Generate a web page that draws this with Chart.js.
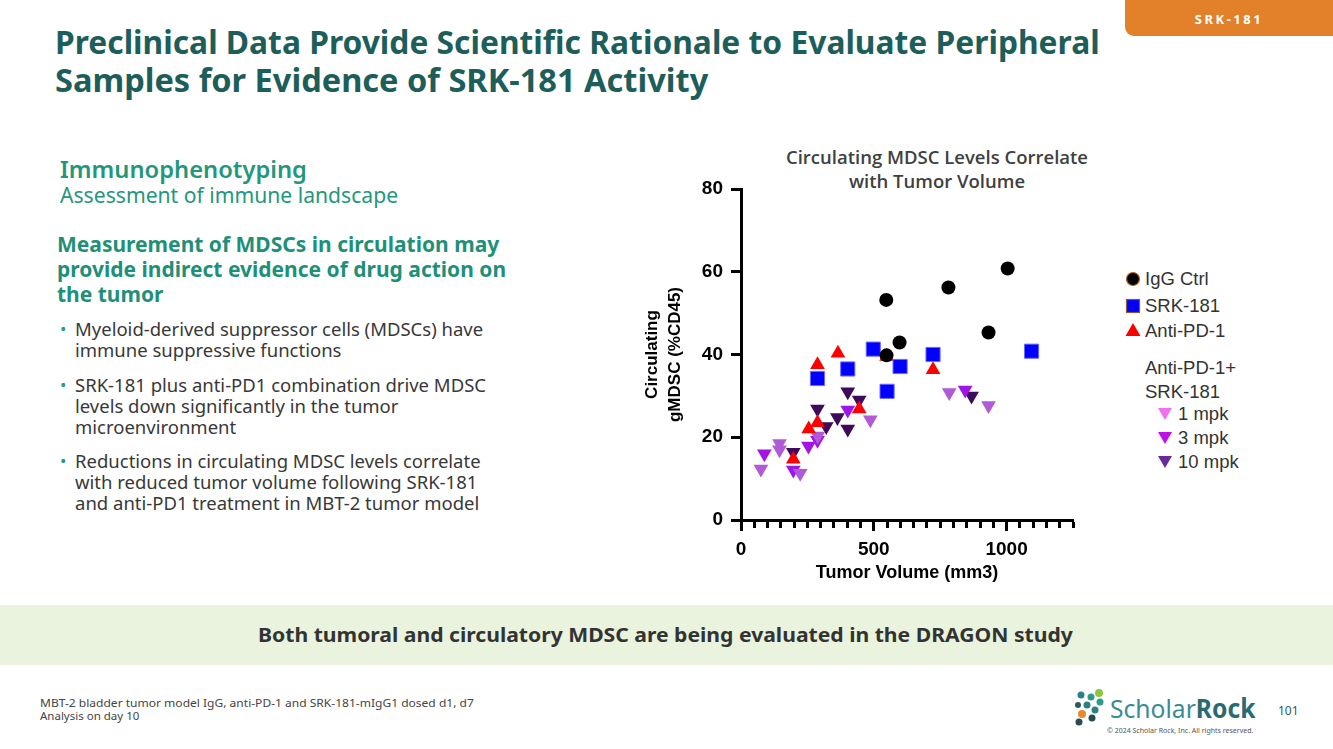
<!DOCTYPE html>
<html><head><meta charset="utf-8">
<script src="https://cdn.jsdelivr.net/npm/chart.js@4.4.1/dist/chart.umd.min.js"></script>
<style>
html,body{margin:0;padding:0;}
body{width:1333px;height:749px;position:relative;overflow:hidden;background:#fff;font-family:"Noto Sans",sans-serif;}
.abs{position:absolute;white-space:nowrap;}
.tab{left:1125px;top:0;width:208px;height:36px;background:#e3802a;border-bottom-left-radius:9px;color:#fff;font-weight:700;font-size:13px;letter-spacing:2.5px;text-align:center;line-height:38px;}
.ttl{left:55px;font-size:32px;font-weight:700;color:#1d5e5a;line-height:38px;transform-origin:0 50%;}
.teal{color:#23977c;}
.bul{left:60px;font-size:18.5px;color:#383838;line-height:21px;}
.bul span.d{position:absolute;left:0;color:#2a9a80;font-size:17px;}
.bul div{padding-left:15px;}
.band{left:0;top:605px;width:1333px;height:60px;background:#e9f3dd;}
.leg{font-family:"Liberation Sans",Arial,sans-serif;font-size:18.5px;color:#333;line-height:22px;}
.chartwrap{position:absolute;left:630px;top:140px;width:470px;height:460px;}
</style></head><body>
<div class="abs tab">SRK-181</div>
<div class="abs ttl" id="t1" style="top:23px">Preclinical Data Provide Scientific Rationale to Evaluate Peripheral</div>
<div class="abs ttl" id="t2" style="top:61px">Samples for Evidence of SRK-181 Activity</div>

<div class="abs teal" id="h1" style="left:60px;top:153px;font-size:24px;font-weight:600;line-height:32px;transform-origin:0 50%;">Immunophenotyping</div>
<div class="abs teal" id="h2" style="left:60px;top:182px;font-size:21px;line-height:26px;transform-origin:0 50%;">Assessment of immune landscape</div>
<div class="abs teal" style="left:57px;top:232px;font-size:21px;font-weight:700;line-height:25px;color:#1f9078;">Measurement of MDSCs in circulation may<br>provide indirect evidence of drug action on<br>the tumor</div>

<div class="abs bul" style="top:318px;"><span class="d">•</span><div>Myeloid-derived suppressor cells (MDSCs) have<br>immune suppressive functions</div></div>
<div class="abs bul" style="top:374px;"><span class="d">•</span><div>SRK-181 plus anti-PD1 combination drive MDSC<br>levels down significantly in the tumor<br>microenvironment</div></div>
<div class="abs bul" style="top:450px;"><span class="d">•</span><div>Reductions in circulating MDSC levels correlate<br>with reduced tumor volume following SRK-181<br>and anti-PD1 treatment in MBT-2 tumor model</div></div>

<div class="abs" style="left:737px;top:145px;width:400px;text-align:center;font-family:'Open Sans',sans-serif;font-weight:600;font-size:18.5px;line-height:24px;color:#404040;">Circulating MDSC Levels Correlate<br>with Tumor Volume</div>

<div class="chartwrap"><canvas id="c" width="470" height="460"></canvas></div>

<!-- legend -->
<svg class="abs" style="left:1120px;top:265px;" width="60" height="210">
  <circle cx="13" cy="14" r="6.5" fill="#000" stroke="#b5651d" stroke-width="1.2"/>
  <rect x="6.5" y="34.5" width="13" height="13" fill="#0000ff" stroke="#8a5a3a" stroke-width="1.2"/>
  <polygon points="13,58 20.5,71 5.5,71" fill="#ff0000"/>
  <polygon points="38,143 52,143 45,155" fill="#f070f0"/>
  <polygon points="38,167 52,167 45,179" fill="#c010e8"/>
  <polygon points="38,191 52,191 45,203" fill="#6a2a9a"/>
</svg>
<div class="abs leg" style="left:1145px;top:268px;">IgG Ctrl</div>
<div class="abs leg" style="left:1145px;top:295px;">SRK-181</div>
<div class="abs leg" style="left:1145px;top:320px;">Anti-PD-1</div>
<div class="abs leg" style="left:1145px;top:356px;line-height:24px;">Anti-PD-1+<br>SRK-181</div>
<div class="abs leg" style="left:1178px;top:403px;">1 mpk</div>
<div class="abs leg" style="left:1178px;top:427px;">3 mpk</div>
<div class="abs leg" style="left:1178px;top:451px;">10 mpk</div>

<div class="abs band"></div>
<div class="abs" id="bandtxt" style="left:258px;top:621px;font-size:19px;font-weight:700;color:#333;line-height:28px;transform-origin:0 50%;">Both tumoral and circulatory MDSC are being evaluated in the DRAGON study</div>

<div class="abs" id="fn1" style="left:40px;top:696px;font-size:11.5px;color:#444;line-height:13px;transform-origin:0 50%;">MBT-2 bladder tumor model IgG, anti-PD-1 and SRK-181-mIgG1 dosed d1, d7</div>
<div class="abs" style="left:40px;top:709px;font-size:11.5px;color:#444;line-height:13px;">Analysis on day 10</div>

<!-- logo -->
<svg class="abs" style="left:1073px;top:688px;" width="36" height="38">
  <circle cx="26" cy="5" r="4" fill="#8cc63f"/>
  <circle cx="18" cy="9" r="3.5" fill="#2e9a8c"/>
  <circle cx="8" cy="7" r="3.5" fill="#2b7f86"/>
  <circle cx="27" cy="14" r="3.5" fill="#2e9a8c"/>
  <circle cx="14" cy="17" r="3.5" fill="#2b7f86"/>
  <circle cx="5" cy="17" r="3" fill="#2a5a60"/>
  <circle cx="22" cy="22" r="3.5" fill="#2b7f86"/>
  <circle cx="9" cy="26" r="4" fill="#e8882f"/>
  <circle cx="19" cy="30" r="3.5" fill="#2a4a50"/>
  <circle cx="6" cy="34" r="3.5" fill="#2a4a50"/>
</svg>
<div class="abs" id="logo" style="left:1110px;top:691px;font-size:26px;line-height:34px;color:#3d8b92;transform-origin:0 50%;">Scholar<b style="color:#2a6a70;">Rock</b></div>
<div class="abs" style="left:1278px;top:702px;font-size:12px;color:#2a5a60;">101</div>
<div class="abs" style="left:1107px;top:726px;font-size:7px;color:#555;">© 2024 Scholar Rock, Inc. All rights reserved.</div>

<script>
// ---- data ----
const iggX = [547, 781, 1004, 932, 597, 548];
const iggY = [53.2, 56.2, 60.8, 45.3, 42.9, 39.8];

const srkX = [498, 402, 599, 723, 1094, 550, 288];
const srkY = [41.3, 36.5, 37.1, 40.0, 40.8, 31.1, 34.2];

const pd1X = [288, 365, 445, 288, 255, 197, 723, 548];
const pd1Y = [37.5, 40.3, 26.8, 23.5, 22.0, 14.7, 36.3, 39.5];

const combo1X = [75, 145, 145, 223, 487, 289, 784, 932];
const combo1Y = [12.3, 18.5, 17.0, 11.3, 24.2, 20.3, 30.8, 27.7];

const combo3X = [88, 197, 254, 288, 402, 844];
const combo3Y = [16.0, 12.1, 17.9, 19.3, 26.6, 31.4];

const combo10X = [197, 288, 321, 363, 402, 402, 445, 868];
const combo10Y = [16.4, 26.8, 22.6, 24.8, 31.0, 22.0, 29.0, 30.0];

const seriesNames = ['IgG Ctrl', 'SRK-181', 'Anti-PD-1', '1 mpk', '3 mpk', '10 mpk'];
const xTickLabels = [0, 500, 1000];
const yTickLabels = [0, 20, 40, 60, 80];

const pts = (xs, ys) => xs.map((x, i) => ({x: x, y: ys[i]}));

function fit(id, w) {
  const el = document.getElementById(id);
  const sw = el.scrollWidth;
  if (sw > 0) el.style.transform = 'scaleX(' + (w / sw) + ')';
}
fit('t1', 1045);
fit('t2', 653);
fit('bandtxt', 815);
fit('fn1', 434);
fit('h1', 247);
fit('h2', 338);
fit('logo', 145);

const axisFont = {family: 'Liberation Sans', size: 19, weight: 'bold'};

new Chart(document.getElementById('c'), {
  type: 'scatter',
  data: {
    datasets: [
      {label: seriesNames[0], data: pts(iggX, iggY), pointStyle: 'circle', pointRadius: 7, backgroundColor: '#000', borderColor: '#000', borderWidth: 0},
      {label: seriesNames[1], data: pts(srkX, srkY), pointStyle: 'rect', pointRadius: 10, backgroundColor: '#0000ff', borderColor: '#6a6aff', borderWidth: 1},
      {label: seriesNames[2], data: pts(pd1X, pd1Y), pointStyle: 'triangle', pointRadius: 8.5, backgroundColor: '#ff0000', borderColor: '#ff0000', borderWidth: 0},
      {label: seriesNames[3], data: pts(combo1X, combo1Y), pointStyle: 'triangle', pointRotation: 180, pointRadius: 8.5, backgroundColor: '#b05ad8', borderColor: '#b05ad8', borderWidth: 0},
      {label: seriesNames[4], data: pts(combo3X, combo3Y), pointStyle: 'triangle', pointRotation: 180, pointRadius: 8.5, backgroundColor: '#a014e6', borderColor: '#a014e6', borderWidth: 0},
      {label: seriesNames[5], data: pts(combo10X, combo10Y), pointStyle: 'triangle', pointRotation: 180, pointRadius: 8.5, backgroundColor: '#3e0a5c', borderColor: '#3e0a5c', borderWidth: 0}
    ]
  },
  options: {
    responsive: false,
    animation: false,
    layout: {padding: {top: 49, right: 27, left: 0, bottom: 0}},
    plugins: {legend: {display: false}, tooltip: {enabled: false}, title: {display: false}},
    scales: {
      x: {
        type: 'linear', min: 0, max: 1250,
        ticks: {stepSize: 50, autoSkip: false, maxRotation: 0, color: '#000', font: axisFont, padding: 7,
          callback: v => xTickLabels.includes(v) ? String(v) : ''},
        grid: {drawOnChartArea: false, drawTicks: true, tickLength: 11, tickWidth: 3, tickColor: '#000',
          tickBorderDash: ctx => (ctx.tick && ctx.tick.value % 500 === 0) ? [] : [6, 40]},
        border: {display: true, color: '#000', width: 3},
        title: {display: true, text: 'Tumor Volume (mm3)', color: '#000', font: {family: 'Liberation Sans', size: 18, weight: 'bold'}, padding: {top: 0, bottom: 16}},
        afterFit: s => { s.height = 80; }
      },
      y: {
        type: 'linear', min: 0, max: 80,
        ticks: {stepSize: 20, color: '#000', font: axisFont, padding: 8,
          callback: v => yTickLabels.includes(v) ? String(v) : ''},
        grid: {drawOnChartArea: false, drawTicks: true, tickLength: 10, tickWidth: 3, tickColor: '#000'},
        border: {display: true, color: '#000', width: 3},
        title: {display: true, text: ['Circulating', 'gMDSC (%CD45)'], color: '#000', font: {family: 'Liberation Sans', size: 17, weight: 'bold', lineHeight: 1.35}, padding: {top: 10.5, bottom: 0}},
        afterFit: s => { s.width = 111; }
      }
    }
  }
});
</script>
</body></html>
